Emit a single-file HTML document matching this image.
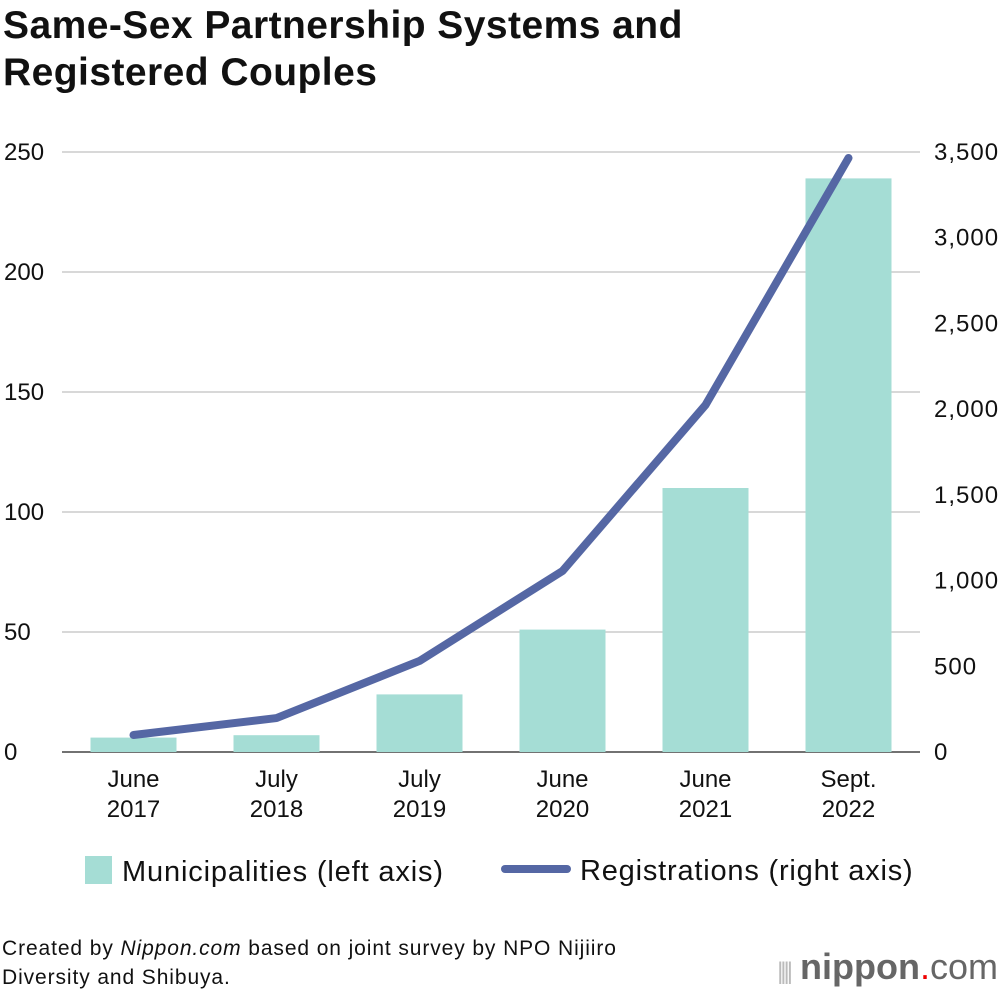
<!DOCTYPE html>
<html><head><meta charset="utf-8">
<style>
body{margin:0;background:#fff;font-family:"Liberation Sans",sans-serif;}
#wrap{position:relative;width:1000px;height:994px;overflow:hidden;}
h1{position:absolute;left:3px;top:2px;margin:0;font-size:39px;line-height:47px;font-weight:bold;color:#111;letter-spacing:0.45px;}
.src{position:absolute;left:2px;top:934px;font-size:21px;line-height:29px;color:#111;letter-spacing:0.9px;}
.logo{position:absolute;right:2px;top:946px;font-size:36px;color:#666;white-space:nowrap;}
</style></head><body>
<div id="wrap">
<h1>Same-Sex Partnership Systems and<br>Registered Couples</h1>
<svg id="chart" width="1000" height="994" style="position:absolute;left:0;top:0"></svg>
<div class="src">Created by <i>Nippon.com</i> based on joint survey by NPO Nijiiro<br>Diversity and Shibuya.</div>
<div class="logo"><span style="font-size:24px;letter-spacing:-3px;color:#bbb">||||</span> <b>nippon</b><span style="color:#e00">.</span>com</div>
</div>
<script>
const categories=[["June","2017"],["July","2018"],["July","2019"],["June","2020"],["June","2021"],["Sept.","2022"]];
const municipalities=[6,7,24,51,110,239];
const registrations=[99,198,531,1056,2024,3465];
const leftTicks=[0,50,100,150,200,250];
const rightTicks=[0,500,1000,1500,2000,2500,3000,3500];
const NS="http://www.w3.org/2000/svg";
const svg=document.getElementById('chart');
const X0=62,X1=920,Y0=752,Y1=152;
const band=(X1-X0)/categories.length;
const xc=i=>X0+band*(i+0.5);
const yL=v=>Y0-(v/250)*(Y0-Y1);
const yR=v=>Y0-(v/3500)*(Y0-Y1);
function mk(t,a){const e=document.createElementNS(NS,t);for(const k in a)e.setAttribute(k,a[k]);svg.appendChild(e);return e;}
leftTicks.forEach(v=>{
  const g=mk('line',{x1:X0,x2:X1,y1:yL(v),y2:yL(v),stroke:v===0?'#444':'#ccc','stroke-width':1.5});
  
  
  const t=mk('text',{x:4,y:yL(v)+8,'font-size':24,fill:'#111'});t.textContent=v;
  
  
});
rightTicks.forEach(v=>{
  const t=mk('text',{x:934,y:yR(v)+8,'font-size':24,fill:'#111','letter-spacing':1});t.textContent=v.toLocaleString('en-US');
  
  
});
municipalities.forEach((v,i)=>{
  const r=mk('rect',{x:xc(i)-43,y:yL(v),width:86,height:Y0-yL(v),fill:'#a5ddd5'});
  
  
});
categories.forEach((c,i)=>{
  c.forEach((s,j)=>{const t=mk('text',{x:xc(i),y:787+j*30,'font-size':24,fill:'#111','text-anchor':'middle'});t.textContent=s;
  
  });
});
const pl=mk('polyline',{points:registrations.map((v,i)=>xc(i)+','+yR(v)).join(' '),fill:'none',stroke:'#5567a4','stroke-width':8,'stroke-linecap':'round','stroke-linejoin':'round'});


const lb=mk('rect',{x:85,y:856,width:27,height:28,fill:'#a5ddd5'});


const lt=mk('text',{x:122,y:881,'font-size':29,fill:'#111','letter-spacing':0.85});lt.textContent='Municipalities (left axis)';


const ll=mk('line',{x1:505,x2:567,y1:869,y2:869,stroke:'#5567a4','stroke-width':8,'stroke-linecap':'round'});


const lt2=mk('text',{x:580,y:880,'font-size':29,fill:'#111','letter-spacing':0.8});lt2.textContent='Registrations (right axis)';


</script>
</body></html>
